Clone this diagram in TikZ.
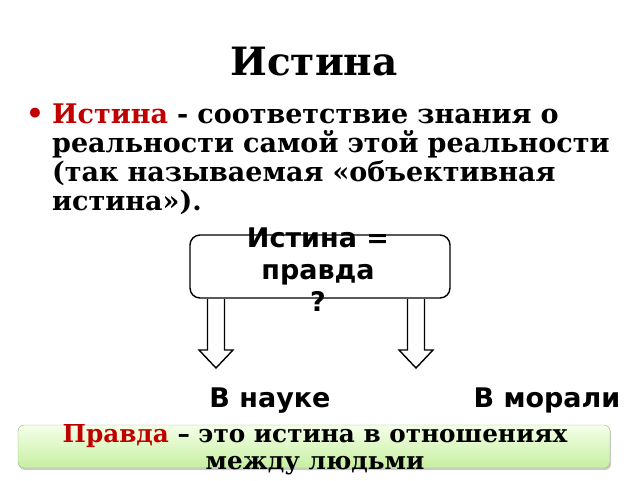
\documentclass[tikz,border=0pt]{standalone}
\usepackage{fontspec}
\setmainfont{DejaVu Serif}
\setsansfont{DejaVu Sans}
\usetikzlibrary{positioning,shadows}

\definecolor{darkred}{HTML}{C00000}
\definecolor{boxgreenA}{HTML}{F4FFE8}
\definecolor{boxgreenB}{HTML}{C6EFA0}
\definecolor{boxedge}{HTML}{9AB08A}

\begin{document}
\begin{tikzpicture}[x=1pt, y=-1pt, inner sep=0pt]
    \tikzstyle{serifbold}=[font=\bfseries\fontsize{27}{29}\selectfont]
    \tikzstyle{sansbold}=[font=\sffamily\bfseries\fontsize{27}{32}\selectfont]
    \tikzstyle{blockarrow}=[draw=black, line width=1.4pt, fill=white]

    \useasboundingbox (0,0) rectangle (640,480);

    % title
    \node[font=\bfseries\fontsize{39}{42}\selectfont] (title) at (314,62) {Истина};

    % definition
    \node[font=\bfseries\fontsize{28}{28}\selectfont, text=darkred] (bullet) at (35,116) {•};
    \node[serifbold, anchor=north west, text width=585pt, align=left] (def) at (52,104)
        {\textcolor{darkred}{Истина} - соответствие знания о реальности самой этой реальности (так называемая «объективная истина»).};

    % question box
    \draw[line width=1.4pt, rounded corners=10pt] (190,235) rectangle (450,298);
    \node[sansbold, align=center] (question) at (318,270) {Истина =\\правда\\?};

    % arrows
    \foreach \x [count=\i] in {216,416} {
        \draw[blockarrow] (\x-8.5,299) -- (\x-8.5,350) -- (\x-17,350) -- (\x,368)
            -- (\x+17,350) -- (\x+8.5,350) -- (\x+8.5,299);
    }

    \node[sansbold, anchor=base] (science) at (270,407) {В науке};
    \node[sansbold, anchor=base] (moral) at (547,407) {В морали};

    % pravda box
    \draw[draw=boxedge, rounded corners=6pt, top color=boxgreenA, bottom color=boxgreenB,
          drop shadow={shadow xshift=1pt, shadow yshift=-2pt, opacity=0.4}] (18,425) rectangle (610,468);
    \node[align=center, font=\bfseries\fontsize{24.7}{27}\selectfont] (pravda) at (315,450)
        {\textcolor{darkred}{Правда} – это истина в отношениях\\между людьми};
\end{tikzpicture}
\end{document}
